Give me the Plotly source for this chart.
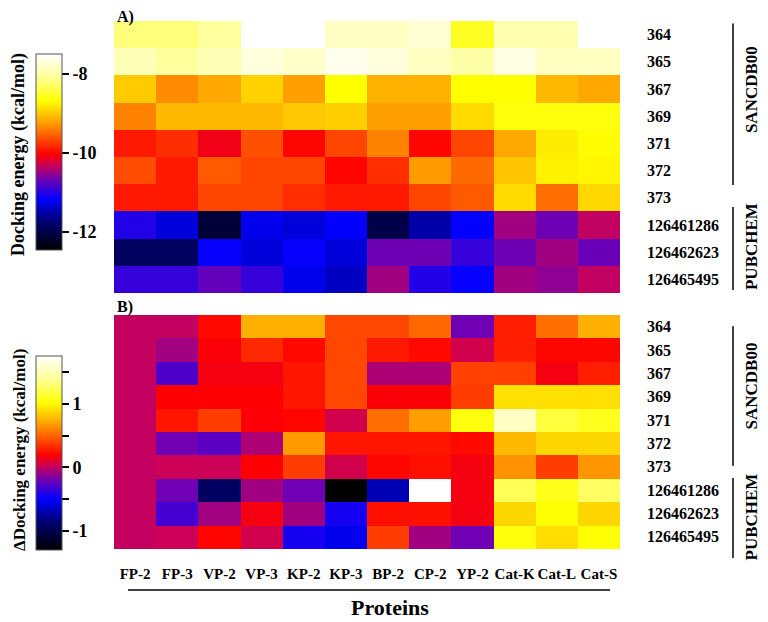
import plotly.graph_objects as go

proteins = ["FP-2", "FP-3", "VP-2", "VP-3", "KP-2", "KP-3", "BP-2", "CP-2", "YP-2", "Cat-K", "Cat-L", "Cat-S"]
compounds = ["364", "365", "367", "369", "371", "372", "373", "126461286", "126462623", "126465495"]

# A) docking energy (kcal/mol), one row per compound
dock_energy = [
    [-8.20, -8.20, -8.05, -7.50, -7.50, -7.85, -7.85, -7.75, -8.55, -7.95, -7.95, -7.50],
    [-7.90, -8.05, -7.90, -7.70, -7.80, -7.60, -7.70, -7.85, -8.00, -7.65, -7.85, -7.85],
    [-8.99, -9.33, -9.18, -8.94, -9.23, -8.69, -9.13, -9.13, -8.69, -8.69, -9.08, -9.18],
    [-9.38, -9.08, -9.08, -9.08, -9.00, -8.96, -9.23, -9.23, -8.89, -8.64, -8.64, -8.64],
    [-9.90, -9.80, -10.10, -9.63, -10.00, -9.68, -9.38, -10.00, -9.68, -9.18, -8.79, -8.71],
    [-9.65, -9.90, -9.58, -9.68, -9.68, -10.00, -9.80, -9.26, -9.50, -9.01, -8.76, -8.74],
    [-9.90, -9.90, -9.68, -9.68, -9.80, -9.90, -9.90, -9.68, -9.58, -8.89, -9.48, -8.91],
    [-11.01, -11.31, -12.10, -11.24, -11.31, -11.16, -12.00, -11.51, -11.16, -10.47, -10.67, -10.35],
    [-11.86, -11.86, -11.14, -11.31, -11.14, -11.31, -10.67, -10.67, -10.92, -10.67, -10.47, -10.69],
    [-10.92, -10.92, -10.72, -10.92, -11.24, -11.41, -10.47, -11.01, -11.14, -10.47, -10.54, -10.35],
]

# B) delta docking energy (kcal/mol)
delta_energy = [
    [0.00, 0.00, 0.22, 0.74, 0.74, 0.41, 0.41, 0.51, -0.20, 0.29, 0.53, 0.74],
    [0.00, -0.08, 0.18, 0.32, 0.22, 0.41, 0.27, 0.22, 0.04, 0.29, 0.21, 0.21],
    [0.00, -0.29, 0.16, 0.16, 0.26, 0.41, -0.05, -0.05, 0.39, 0.39, 0.16, 0.29],
    [0.00, 0.19, 0.19, 0.19, 0.26, 0.41, 0.18, 0.18, 0.38, 0.91, 0.91, 0.91],
    [0.00, 0.26, 0.38, 0.18, 0.21, 0.04, 0.53, 0.68, 1.05, 1.54, 1.17, 1.09],
    [0.00, -0.20, -0.26, -0.05, 0.67, 0.26, 0.26, 0.26, 0.22, 0.77, 0.88, 0.88],
    [0.00, 0.02, 0.02, 0.19, 0.38, 0.04, 0.21, 0.24, 0.16, 0.64, 0.38, 0.65],
    [0.00, -0.20, -0.93, -0.08, -0.20, -1.30, -0.69, 1.75, 0.16, 1.23, 1.08, 1.26],
    [0.00, -0.32, -0.08, 0.16, -0.08, -0.45, 0.24, 0.24, 0.16, 0.88, 1.02, 0.88],
    [0.00, 0.02, 0.21, 0.04, -0.45, -0.55, 0.38, -0.08, -0.20, 1.05, 0.90, 1.02],
]

serif = "Liberation Serif"
W, H = 768, 622
OFF = 8  # page body margin


def px(p):
    return (p - OFF) / W


def py(p):
    return 1 - (p - OFF) / H


scale = [
    [0.00, "rgb(0,0,0)"],
    [0.15, "rgb(0,0,120)"],
    [0.26, "rgb(0,0,255)"],
    [0.36, "rgb(110,0,180)"],
    [0.43, "rgb(200,0,90)"],
    [0.49, "rgb(255,0,0)"],
    [0.57, "rgb(255,80,0)"],
    [0.64, "rgb(255,150,0)"],
    [0.76, "rgb(255,255,0)"],
    [0.88, "rgb(255,255,150)"],
    [1.00, "rgb(255,255,255)"],
]

cb_common = dict(
    thickness=26, thicknessmode="pixels", lenmode="fraction",
    x=px(36), xanchor="left", xpad=0, ypad=0,
    outlinewidth=1, outlinecolor="#555",
    ticks="outside", ticklen=7, tickwidth=2, tickcolor="black",
    tickfont=dict(family=serif, size=18, color="black", weight="bold"),
)

fig = go.Figure()
fig.add_trace(go.Heatmap(
    z=dock_energy, x=proteins, y=compounds, xaxis="x", yaxis="y",
    colorscale=scale, zmin=-12.45, zmax=-7.5,
    colorbar=dict(cb_common, len=196 / H, y=py(152), yanchor="middle",
                  tickvals=[-8, -10, -12], ticktext=["-8", "-10", "-12"]),
))
fig.add_trace(go.Heatmap(
    z=delta_energy, x=proteins, y=compounds, xaxis="x2", yaxis="y2",
    colorscale=scale, zmin=-1.3, zmax=1.75,
    colorbar=dict(cb_common, len=194 / H, y=py(453), yanchor="middle",
                  tickvals=[-1, -0.5, 0, 0.5, 1, 1.5],
                  ticktext=["-1", "", "0", "", "1", ""]),
))

row_font = dict(family=serif, size=16, color="black", weight="bold")
xdom = [px(114), px(620)]
fig.update_layout(
    width=W, height=H,
    margin=dict(l=0, r=0, t=0, b=0, autoexpand=False),
    paper_bgcolor="white", plot_bgcolor="white",
    xaxis=dict(domain=xdom, type="category", anchor="y", automargin=False,
               showticklabels=False, ticks="", showgrid=False, zeroline=False),
    yaxis=dict(domain=[py(293), py(21)], type="category", side="right", anchor="x",
               automargin=False, autorange="reversed", ticks="", showgrid=False,
               tickfont=row_font, ticklabelstandoff=26),
    xaxis2=dict(domain=xdom, type="category", anchor="y2", automargin=False,
                ticks="", showgrid=False, ticklabelstandoff=0,
                tickfont=dict(family=serif, size=15, color="black", weight="bold")),
    yaxis2=dict(domain=[py(563), py(315)], type="category", side="right", anchor="x2",
                automargin=False, autorange="reversed", ticks="", showgrid=False,
                tickfont=row_font, ticklabelstandoff=26),
)

# group brackets on the right
groups = [
    ("y", "SANCDB00", -0.41, 5.53, 2.04),
    ("y", "PUBCHEM", 6.34, 9.39, 7.81),
    ("y2", "SANCDB00", -0.02, 5.95, 2.56),
    ("y2", "PUBCHEM", 6.48, 9.9, 8.17),
]
for ax, name, y0, y1, ymid in groups:
    fig.add_shape(type="line", xref="paper", yref=ax, x0=px(733), x1=px(733),
                  y0=y0, y1=y1, line=dict(color="black", width=1.5))
    fig.add_annotation(text="<b>%s</b>" % name, xref="paper", yref=ax,
                       x=px(751), y=ymid, xanchor="center", yanchor="middle",
                       textangle=-90, showarrow=False,
                       font=dict(family=serif, size=17, color="black"))

# colorbar titles
fig.add_annotation(text="<b>Docking energy (kcal/mol)</b>", xref="paper", yref="paper",
                   x=px(19), y=py(155), xanchor="center", yanchor="middle",
                   textangle=-90, showarrow=False,
                   font=dict(family=serif, size=18, color="black"))
fig.add_annotation(text="<b>ΔDocking energy (kcal/mol)</b>", xref="paper", yref="paper",
                   x=px(19), y=py(450), xanchor="center", yanchor="middle",
                   textangle=-90, showarrow=False,
                   font=dict(family=serif, size=17, color="black"))

# panel labels
for lab, ypx in [("A)", 17), ("B)", 307)]:
    fig.add_annotation(text="<b>%s</b>" % lab, xref="paper", yref="paper",
                       x=px(115), y=py(ypx), xanchor="left", yanchor="middle",
                       showarrow=False, font=dict(family=serif, size=16, color="black"))

# x title with line above it
fig.add_shape(type="line", xref="paper", yref="paper", x0=px(128), x1=px(610),
              y0=py(590), y1=py(590), line=dict(color="black", width=1.5))
fig.add_annotation(text="<b>Proteins</b>", xref="paper", yref="paper",
                   x=px(390), y=py(607), xanchor="center", yanchor="middle",
                   showarrow=False, font=dict(family=serif, size=22, color="black"))

fig.write_html("out.html")
